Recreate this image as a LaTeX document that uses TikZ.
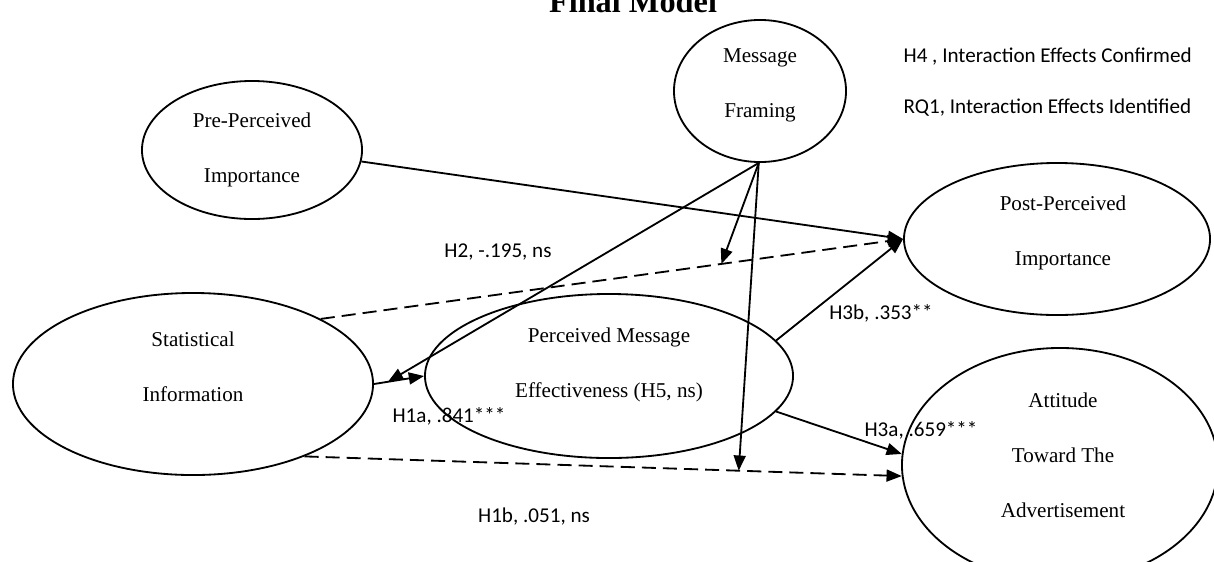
\documentclass[tikz,border=0pt]{standalone}
\usepackage{fontspec}
\setmainfont{Liberation Serif}
\newfontfamily\calibri{Carlito}
\usetikzlibrary{shapes.geometric}
\usetikzlibrary{arrows.meta}
\usetikzlibrary{calc}

\begin{document}
\begin{tikzpicture}[x=0.025cm, y=-0.025cm,
    line width=1.3pt,
    construct/.style={shape=ellipse, draw, inner sep=0pt},
    ctext/.style={align=center, font=\fontsize{15}{39}\selectfont},
    plabel/.style={font=\calibri\fontsize{15}{18}\selectfont},
    path/.style={-{Triangle[length=3.8mm, width=3mm]}},
    nspath/.style={path, dash pattern=on 10pt off 5pt}]

    \path [use as bounding box] (0,0) rectangle (1214,561);

    \node[name=title,
      anchor=base,
      font=\fontsize{23}{26}\selectfont\bfseries] at (633,12) {Final Model};

    % constructs
    \node[name=msg,
      construct,
      minimum width=4.3cm,
      minimum height=3.55cm] at (760,91) {};
    \node[name=msgtxt, ctext] at (760,85) {Message\\Framing};

    \node[name=pre,
      construct,
      minimum width=5.5cm,
      minimum height=3.45cm] at (252,150) {};
    \node[name=pretxt, ctext] at (252,150) {Pre-Perceived\\Importance};

    \node[name=post,
      construct,
      minimum width=7.65cm,
      minimum height=3.8cm] at (1057,239) {};
    \node[name=posttxt, ctext] at (1063,233) {Post-Perceived\\Importance};

    \node[name=stat,
      construct,
      minimum width=9cm,
      minimum height=4.55cm] at (193,384) {};
    \node[name=stattxt, ctext] at (193,367) {Statistical\\Information};

    \node[name=pme,
      construct,
      minimum width=9.2cm,
      minimum height=4.1cm] at (609,376) {};
    \node[name=pmetxt, ctext] at (609,365) {Perceived Message\\Effectiveness (H5, ns)};

    \node[name=att,
      construct,
      minimum width=7.9cm,
      minimum height=5.85cm] at (1060,465) {};
    \node[name=atttxt, ctext] at (1063,455) {Attitude\\Toward The\\Advertisement};

    % notes
    \node[name=h4note, plabel, anchor=west] at (898,57) {H4 , Interaction Effects Confirmed};
    \node[name=rq1note, plabel, anchor=west] at (898,108) {RQ1, Interaction Effects Identified};

    % paths
    \path (stat.east) edge[path] (pme.west);
    \path (pre.-6) edge[path] (post.west);
    \path (stat.27) edge[nspath] (post.west);
    \path (stat.-33) edge[nspath] (att.184);
    \path (pme.12) edge[path] (post.west);
    \path (pme.-12) edge[path] (att.176);

    % moderation by message framing
    \coordinate (fork) at (msg.-91);
    \coordinate (onh1a) at ($(stat.east)!0.28!(pme.west)$);
    \coordinate (onh2) at ($(stat.27)!0.688!(post.west)$);
    \coordinate (onh1b) at ($(stat.-33)!0.727!(att.184)$);
    \path (fork) edge[path] (onh1a);
    \path (fork) edge[path] (onh2);
    \path (fork) edge[path] (onh1b);

    % path labels
    \node[name=lh2, plabel] at (498,252) {H2, -.195, ns};
    \node[name=lh1a, plabel] at (449,416) {H1a, .841***};
    \node[name=lh1b, plabel] at (534,517) {H1b, .051, ns};
    \node[name=lh3b, plabel] at (881,313) {H3b, .353**};
    \node[name=lh3a, plabel] at (921,430) {H3a, .659***};
  \end{tikzpicture}
\end{document}
